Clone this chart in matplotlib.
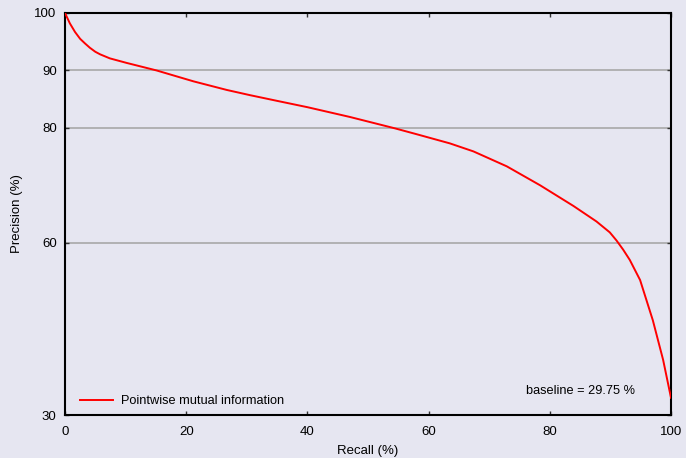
import matplotlib
matplotlib.use('Agg')
import matplotlib.pyplot as plt

plt.rcParams['font.family'] = ['Liberation Sans', 'DejaVu Sans']

# precision-recall curve, values
recall = [0, 0.8, 1.65, 2.5, 3.3, 4.1, 5.0, 5.8, 7.4, 10.2, 15.1, 21.2, 26.7,
          30.5, 35, 40, 47.0, 54.5, 58, 63.5, 67.4, 72.9, 78.4, 83.9, 87.7,
          89.9, 91.0, 92.1, 93.2, 94.9, 97.0, 98.7, 100]
precision = [100, 98.2, 96.7, 95.5, 94.7, 93.95, 93.25, 92.8, 92.1, 91.3, 90.0,
             88.1, 86.6, 85.7, 84.7, 83.6, 81.9, 79.9, 78.9, 77.3, 75.9, 73.3,
             70.0, 66.4, 63.7, 61.8, 60.4, 58.8, 57.0, 53.5, 46.5, 39.6, 33.0]
baseline = 29.75
xticks = [0, 20, 40, 60, 80, 100]
yticks = [30, 60, 80, 90, 100]
grid_y = [60, 80, 90]

bg = '#E6E6F1'
fig = plt.figure(figsize=(6.86, 4.58), dpi=100, facecolor=bg)
ax = fig.add_axes([65/686, 1-415/458, (671-65)/686, (415-13)/458], facecolor=bg)

for g in grid_y:
    ax.axhline(g, color='#A8A8A8', linewidth=1.2, zorder=1)

ax.plot(recall, precision, color='#FF0000', linewidth=1.4,
        label='Pointwise mutual information', zorder=3)

ax.set_xlim(0, 100)
ax.set_ylim(30, 100)
ax.set_xticks(xticks)
ax.set_yticks(yticks)
ax.tick_params(direction='in', length=3, width=1, labelsize=9.5,
               top=True, right=True, colors='#333333', labelcolor='black')
ax.tick_params(axis='x', pad=8)
ax.tick_params(axis='y', pad=6)
for s in ax.spines.values():
    s.set_linewidth(1.5)
    s.set_color('black')

ax.set_xlabel('Recall (%)', fontsize=9.5)
ax.set_ylabel('Precision (%)', fontsize=9.5)
ax.xaxis.set_label_coords(0.5, -0.075)
ax.yaxis.set_label_coords(-0.069, 0.5)

ax.text(94.1, 34.2, 'baseline = %.2f %%' % baseline, fontsize=9.2,
        ha='right', va='center')

leg = ax.legend(loc='lower left', frameon=False, fontsize=9.2,
                handlelength=2.6, handletextpad=0.6, borderaxespad=0.2,
                bbox_to_anchor=(0.012, 0.0))

fig.savefig('out.png', dpi=100, facecolor=bg)
